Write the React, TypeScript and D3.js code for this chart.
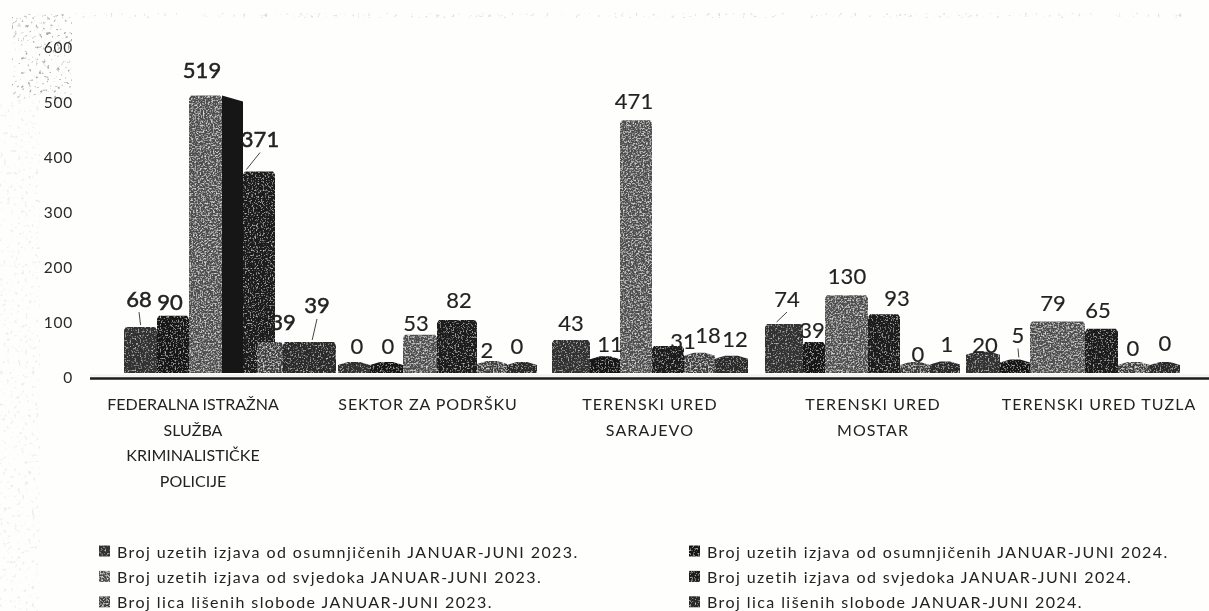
import React from "react";
import * as d3 from "d3";

const W = 1209;
const H = 611;

const categories = ["FEDERALNA ISTRAŽNA", "SEKTOR ZA PODRŠKU", "TERENSKI URED SARAJEVO", "TERENSKI URED MOSTAR", "TERENSKI URED TUZLA"];
const categoryLines = [
  ["FEDERALNA ISTRAŽNA", "SLUŽBA", "KRIMINALISTIČKE", "POLICIJE"],
  ["SEKTOR ZA PODRŠKU"],
  ["TERENSKI URED", "SARAJEVO"],
  ["TERENSKI URED", "MOSTAR"],
  ["TERENSKI URED TUZLA"],
];
const seriesNames = [
  "Broj uzetih izjava od osumnjičenih JANUAR-JUNI 2023.",
  "Broj uzetih izjava od osumnjičenih JANUAR-JUNI 2024.",
  "Broj uzetih izjava od svjedoka JANUAR-JUNI 2023.",
  "Broj uzetih izjava od svjedoka JANUAR-JUNI 2024.",
  "Broj lica lišenih slobode JANUAR-JUNI 2023.",
  "Broj lica lišenih slobode JANUAR-JUNI 2024.",
];
const suspects2023 = [68, 0, 43, 74, 20];
const suspects2024 = [90, 0, 11, 39, 5];
const witnesses2023 = [519, 53, 471, 130, 79];
const witnesses2024 = [371, 82, 31, 93, 65];
const arrests2023 = [39, 2, 18, 0, 0];
const arrests2024 = [39, 0, 12, 1, 0];
const seriesValues = [suspects2023, suspects2024, witnesses2023, witnesses2024, arrests2023, arrests2024];
const yTicks = [0, 100, 200, 300, 400, 500, 600];

// layout, kept apart from the data
const seriesFill = ["#333333", "#161616", "#4e4e4e", "#1b1b1b", "#3c3c3c", "#2a2a2a"];
const strongSpeck = [false, false, true, false, true, false];
// how far each bar's left / right edge sits from its slot in the band scale
const startNudge = [
  [0, -1, -3, 17, -3, -11],
  [3, 1, 0, 0, 6, 2],
  [6, 10, 6, 4, 2, -1],
  [8, 12, 0, 9, 7, 3],
  [-2, -2, -6, 15, 14, 12],
];
const endNudge = [
  [-1, -3, -4, 15, -11, 8],
  [1, 0, 0, 6, 2, -2],
  [10, 6, 4, 2, -1, -2],
  [12, 0, 9, 7, 3, -1],
  [-2, -6, 15, 14, 12, 8],
];
const labelNudge: [number, number][][] = [
  [[-2, -29], [-5, -14], [-7, -26], [17, -33], [6, -20], [6, -37]],
  [[5, -17], [2, -17], [-4, -12], [5, -20], [-1, -11], [-5, -17]],
  [[8, -17], [13, -13], [3, -20], [18, -6], [9, -18], [2, -17]],
  [[13, -26], [4, -12], [5, -20], [21, -17], [8, -9], [3, -18]],
  [[0, -7], [-1, -25], [0, -19], [11, -19], [12, -15], [10, -20]],
];
const leaders: [number, number][] = [[0, 0], [0, 3], [0, 5], [3, 0], [4, 1]];
const catCenter = [193, 428, 650, 873, 1099];
const catTop = 403.5;
const catLineGap = 25.6;
const catSpacing = [0, 0.9, 1.1, 1.1, 1.05];
const FONT = "Lato, 'Open Sans', sans-serif";

const tickY = d3.scaleLinear().domain([0, 600]).range([377, 47]);
const barY = d3.scaleLinear().domain([0, 600]).range([362, 54]);
const BASE = 373;
const groupX = d3.scaleBand<string>().domain(categories).range([124, 1179]);
const barX = d3.scaleBand<number>().domain(d3.range(6)).range([0, 204]);
const bw = barX.bandwidth();

const slot = (g: number, s: number) => groupX(categories[g])! + barX(s)!;
const cx = (g: number, s: number) => slot(g, s) + bw / 2;

export default function App() {
  return (
    <svg width={W} height={H} viewBox={`0 0 ${W} ${H}`} style={{ position: "absolute", left: 0, top: 0, background: "#fefefd" }}>
      <defs>
        <filter id="speck" x="0" y="0" width="100%" height="100%">
          <feTurbulence type="fractalNoise" baseFrequency="0.6" numOctaves="2" seed="4" result="n" />
          <feColorMatrix in="n" type="matrix" values="0 0 0 0 0.6  0 0 0 0 0.6  0 0 0 0 0.6  3 0 0 0 -1.65" result="w" />
          <feComposite in="w" in2="SourceAlpha" operator="in" result="wc" />
          <feMerge>
            <feMergeNode in="SourceGraphic" />
            <feMergeNode in="wc" />
          </feMerge>
        </filter>
        <filter id="speckStrong" x="0" y="0" width="100%" height="100%">
          <feTurbulence type="fractalNoise" baseFrequency="0.6" numOctaves="2" seed="11" result="n" />
          <feColorMatrix in="n" type="matrix" values="0 0 0 0 0.7  0 0 0 0 0.7  0 0 0 0 0.7  3 0 0 0 -1.4" result="w" />
          <feComposite in="w" in2="SourceAlpha" operator="in" result="wc" />
          <feMerge>
            <feMergeNode in="SourceGraphic" />
            <feMergeNode in="wc" />
          </feMerge>
        </filter>
        <filter id="grain" x="0" y="0" width="100%" height="100%">
          <feTurbulence type="fractalNoise" baseFrequency="0.28" numOctaves="2" seed="9" />
          <feColorMatrix type="matrix" values="0 0 0 0 0.4  0 0 0 0 0.4  0 0 0 0 0.4  6 0 0 0 -3.7" />
          <feComposite in2="SourceAlpha" operator="in" />
        </filter>
        <filter id="soft"><feGaussianBlur stdDeviation="0.5" /></filter>
      </defs>

      <rect x={12} y={14} width={60} height={85} fill="#000" filter="url(#grain)" />
      <rect x={0} y={100} width={40} height={511} fill="#000" opacity={0.2} filter="url(#grain)" />
      <rect x={60} y={13} width={1140} height={5} fill="#000" opacity={0.4} filter="url(#grain)" />

      <g filter="url(#soft)">
        {yTicks.map((t) => (
          <text key={t} x={73} y={tickY(t)} textAnchor="end" dominantBaseline="central" fontFamily={FONT} fontSize={15.5} fontWeight={400} letterSpacing={0.8} fill="#2a2a2a">
            {t}
          </text>
        ))}

        {categories.map((c, g) =>
          d3.range(6).map((s) => {
            const v = seriesValues[s][g];
            const x0 = slot(g, s) + startNudge[g][s];
            const x1 = slot(g, s) + bw + endNudge[g][s];
            const top = barY(v);
            const skew = v < 25 ? 10 : 2;
            const isDeep = g === 0 && s === 2;
            const points = [
              [x0, BASE],
              [x1, BASE],
              [x1, top + 3],
              [x1 - skew, top],
              [x0 + skew, top],
              [x0, top + 3],
            ];
            return (
              <g key={`${g}-${s}`}>
                {isDeep && (
                  <polygon
                    points={[[x1, top], [x1 + 21, top + 6], [x1 + 21, BASE], [x1, BASE]].map((p) => p.join(",")).join(" ")}
                    fill="#141414"
                  />
                )}
                <polygon
                  points={points.map((p) => p.join(",")).join(" ")}
                  fill={seriesFill[s]}
                  filter={strongSpeck[s] ? "url(#speckStrong)" : "url(#speck)"}
                />
              </g>
            );
          })
        )}

        <rect x={90} y={374.5} width={1119} height={2} fill="#f0f0f0" />
        <line x1={90} x2={1209} y1={378.5} y2={378.5} stroke="#1c1c1c" strokeWidth={2.4} />

        {leaders.map(([g, s]) => {
          const v = seriesValues[s][g];
          const [dx, dy] = labelNudge[g][s];
          const x = cx(g, s);
          const y = barY(v);
          return <line key={`l${g}-${s}`} x1={x + dx} y1={y + dy + 14} x2={x + dx * 0.2} y2={y - 2} stroke="#444" strokeWidth={1} />;
        })}

        {categories.map((c, g) =>
          d3.range(6).map((s) => {
            const v = seriesValues[s][g];
            const [dx, dy] = labelNudge[g][s];
            return (
              <text key={`t${g}-${s}`} x={cx(g, s) + dx} y={barY(v) + dy} textAnchor="middle" dominantBaseline="central" fontFamily={FONT} fontSize={22} fontWeight={400} stroke="#222" strokeWidth={g === 0 ? 0.5 : 0.15} fill="#222">
                {v}
              </text>
            );
          })
        )}

        {categoryLines.map((lines, g) =>
          lines.map((ln, i) => (
            <text key={ln + g} x={catCenter[g]} y={catTop + i * catLineGap} textAnchor="middle" dominantBaseline="central" fontFamily={FONT} fontSize={16} fontWeight={400} letterSpacing={catSpacing[g]} fill="#222">
              {ln}
            </text>
          ))
        )}

        {seriesNames.map((n, i) => {
          const col = i % 2;
          const row = Math.floor(i / 2);
          const y = 551 + row * 25.4;
          const x = col === 0 ? 117 : 707;
          return (
            <g key={n}>
              <rect x={x - 18} y={y - 5.5} width={11} height={11} fill={seriesFill[i]} filter={strongSpeck[i] ? "url(#speckStrong)" : "url(#speck)"} />
              <text x={x} y={y} dominantBaseline="central" fontFamily={FONT} fontSize={16} fontWeight={400} letterSpacing={1.42} fill="#222">
                {n}
              </text>
            </g>
          );
        })}
      </g>
    </svg>
  );
}
